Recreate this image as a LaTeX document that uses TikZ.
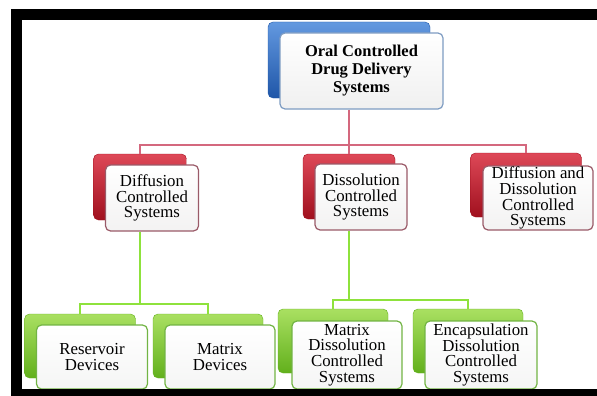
\documentclass[tikz,border=0pt]{standalone}
\usepackage{fontspec}
\setmainfont{Liberation Serif}

\definecolor{blueback}{HTML}{3C7FD8}
\definecolor{bluedark}{HTML}{1F56A8}
\definecolor{redback}{HTML}{D8283A}
\definecolor{reddark}{HTML}{A0101E}
\definecolor{greenback}{HTML}{94D83A}
\definecolor{greendark}{HTML}{62B01C}
\definecolor{blueedge}{HTML}{7E9CC2}
\definecolor{rededge}{HTML}{9A5A68}
\definecolor{greenedge}{HTML}{72B444}
\definecolor{redwire}{HTML}{D4687E}
\definecolor{greenwire}{HTML}{8EE23C}

\tikzset{
  backbox/.style={rounded corners=5pt, inner sep=0pt},
  bluebox/.style={backbox, top color=blueback!80!white, bottom color=bluedark, draw=bluedark},
  redbox/.style={backbox, top color=redback!85!white, bottom color=reddark, draw=reddark},
  greenbox/.style={backbox, top color=greenback!80!white, bottom color=greendark, draw=greendark},
  frontbox/.style={rounded corners=5pt, inner sep=0pt, align=center, line width=1.2pt,
    font=\fontsize{16.8}{15.8}\selectfont},
  topfront/.style={frontbox, draw=blueedge, top color=white, bottom color=black!6},
  redfront/.style={frontbox, draw=rededge, top color=white, bottom color=red!6!black!5},
  greenfront/.style={frontbox, draw=greenedge, top color=white, bottom color=green!5!black!4},
  redline/.style={draw=redwire, line width=1.3pt},
  greenline/.style={draw=greenwire, line width=1.5pt}
}

\begin{document}
\begin{tikzpicture}[x=1pt,y=-1pt]
  \useasboundingbox (0,0) rectangle (597,396);

  % top
  \node[bluebox, minimum width=162, minimum height=76] (topb) at (349,60) {};
  \node[topfront, minimum width=163, minimum height=76,
        font=\bfseries\fontsize{16.5}{18}\selectfont] (top) at (361.5,71)
        {Oral Controlled\\Drug Delivery\\Systems};

  % second row
  \node[redbox, minimum width=93, minimum height=66] (diffb) at (140,187) {};
  \node[redfront, minimum width=93, minimum height=66] (diff) at (152,198)
        {Diffusion\\Controlled\\Systems};
  \node[redbox, minimum width=92, minimum height=65] (dissb) at (349,186.5) {};
  \node[redfront, minimum width=92, minimum height=66] (diss) at (361,197)
        {Dissolution\\Controlled\\Systems};
  \node[redbox, minimum width=111, minimum height=64] (bothb) at (526,185) {};
  \node[redfront, minimum width=110, minimum height=64] (both) at (538,198)
        {Diffusion and\\Dissolution\\Controlled\\Systems};

  % third row
  \node[greenbox, minimum width=111, minimum height=64] (resb) at (80,346) {};
  \node[greenfront, minimum width=111, minimum height=64] (res) at (92,357)
        {Reservoir\\Devices};
  \node[greenbox, minimum width=110, minimum height=64] (mdevb) at (208,346) {};
  \node[greenfront, minimum width=110, minimum height=64] (mdev) at (220,357)
        {Matrix\\Devices};
  \node[greenbox, minimum width=110, minimum height=64] (mdisb) at (333,341) {};
  \node[greenfront, minimum width=110, minimum height=68] (mdis) at (347,355)
        {Matrix\\Dissolution\\Controlled\\Systems};
  \node[greenbox, minimum width=110, minimum height=64] (encb) at (468,341) {};
  \node[greenfront, minimum width=112, minimum height=68] (enc) at (481,355)
        {Encapsulation\\Dissolution\\Controlled\\Systems};

  % connectors
  \coordinate (j0) at (349,145);
  \draw[redline] (top.south -| topb) -- (j0);
  \draw[redline] (diffb.north) |- (j0) -| (bothb.north);
  \draw[redline] (j0) -- (dissb.north);

  \coordinate (j1) at (140,304);
  \draw[greenline] (diff.south -| diffb) -- (j1);
  \draw[greenline] (resb.north) |- (j1) -| (mdevb.north);

  \coordinate (j2) at (349,300);
  \draw[greenline] (diss.south -| dissb) -- (j2);
  \draw[greenline] (mdisb.north) |- (j2) -| (encb.north);

  % frame
  \fill[black] (11,9) rectangle (597,20);
  \fill[black] (11,9) rectangle (22,396);
  \fill[black] (11,389) rectangle (597,396);
\end{tikzpicture}
\end{document}
